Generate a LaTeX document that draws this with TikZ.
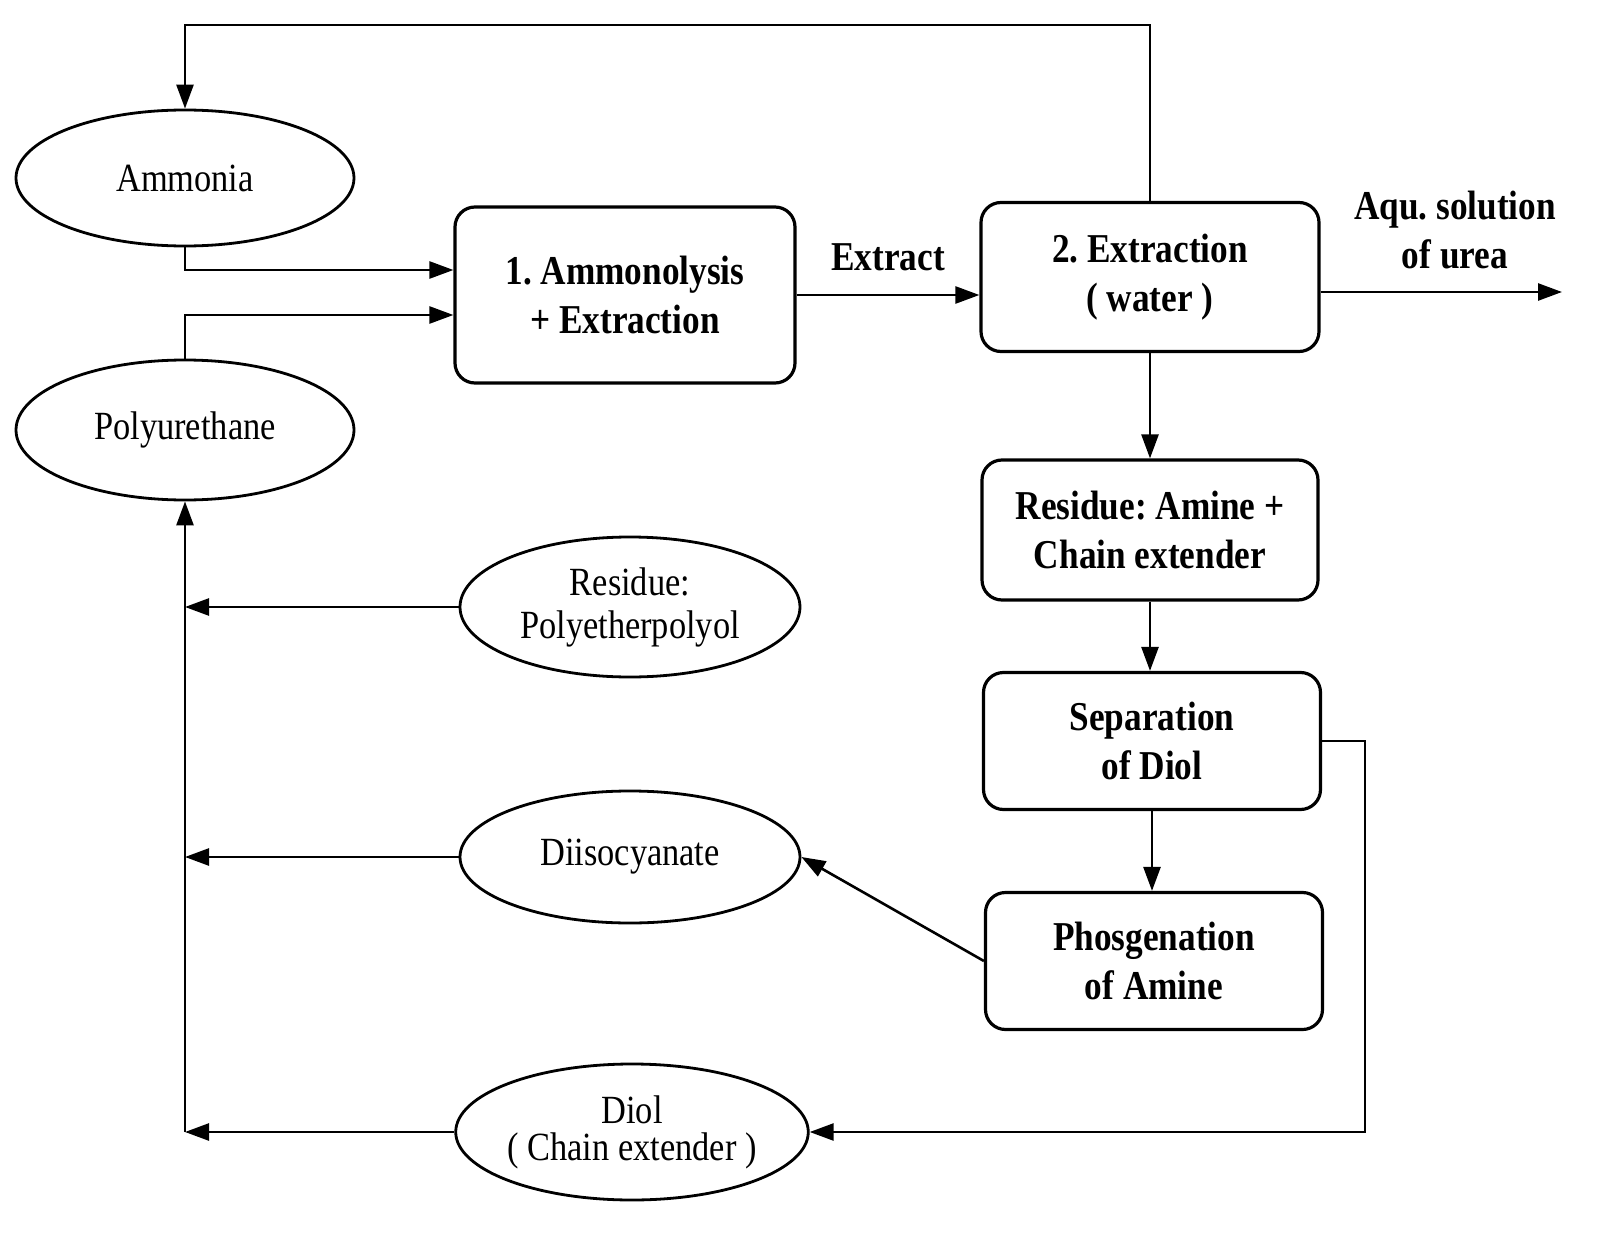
\documentclass[tikz,border=0pt]{standalone}
\usepackage{fontspec}
\setmainfont{Liberation Serif}[FakeStretch=0.86]
\usetikzlibrary{shapes.geometric,arrows.meta}
\tikzset{
  proc/.style={draw, line width=3.2pt, rounded corners=20pt, inner sep=0pt, align=center,
    font=\fontsize{41}{49}\selectfont\bfseries\frenchspacing},
  mat/.style={draw, line width=2.8pt, ellipse, inner sep=0pt, align=center,
    minimum width=338pt, minimum height=136pt, font=\fontsize{40}{43}\selectfont\frenchspacing},
  lbl/.style={align=center, font=\fontsize{41}{49}\selectfont\bfseries\frenchspacing},
  arr/.style={line width=2.6pt, -{Triangle[length=24pt,width=17pt]}}
}
\begin{document}
\begin{tikzpicture}[x=1pt,y=-1pt]
\fill[white] (0,0) rectangle (1618,1244);
\useasboundingbox (0,0) rectangle (1618,1244);

\node[mat] (amm) at (185,178) {Ammonia};
\node[mat, minimum height=140pt] (pu) at (185,430) {Polyurethane};
\node[mat, minimum width=340pt, minimum height=140pt] (res) at (630,607) {Residue:\\Polyetherpolyol};
\node[mat, minimum width=340pt, minimum height=132pt] (diis) at (630,857) {Diisocyanate};
\node[mat, minimum width=338pt, minimum height=136pt] (diol) at (632,1132) {Diol\\[-6pt]( Chain extender )};

\node[proc, minimum width=340pt, minimum height=176pt] (b1) at (625,295) {1. Ammonolysis\\+ Extraction};
\node[proc, minimum width=338pt, minimum height=149pt] (b2) at (1150,277) {2. Extraction\\( water )};
\node[proc, minimum width=336pt, minimum height=140pt] (b3) at (1150,530) {Residue: Amine +\\Chain extender};
\node[proc, minimum width=337pt, minimum height=137pt] (b4) at (1152,741) {Separation\\of Diol};
\node[proc, minimum width=337pt, minimum height=137pt] (b5) at (1154,961) {Phosgenation\\of Amine};

\node[lbl] (lext) at (888,257) {Extract};
\node[lbl] (laq) at (1455,230) {Aqu. solution\\of urea};

\coordinate (tl) at (185,25);
\coordinate (out) at (1562,292);
\coordinate (rc) at (1365,1132);

\draw[arr] (b2.north) |- (tl) -- (amm.north);
\draw[arr] (amm.south) |- ([yshift=25pt]b1.west);
\draw[arr] (pu.north) |- ([yshift=-20pt]b1.west);
\draw[arr] (b1.east) -- (b1.east -| b2.west);
\draw[arr] ([yshift=-15pt]b2.east) -- (out);
\draw[arr] (b2.south) -- (b2.south |- b3.north);
\draw[arr] (b3.south) -- (b3.south |- b4.north);
\draw[arr] (b4.south) -- (b4.south |- b5.north);
\draw[arr] (b4.east) -| (rc) -- (diol.east);
\draw[arr] (b5.west) -- (diis.east);
\draw[arr] (res.west) -- (res.west -| pu.south);
\draw[arr] (diis.west) -- (diis.west -| pu.south);
\draw[arr] (diol.west) -- (diol.west -| pu.south);
\draw[arr] (diol.west -| pu.south) -- (pu.south);
\end{tikzpicture}
\end{document}
